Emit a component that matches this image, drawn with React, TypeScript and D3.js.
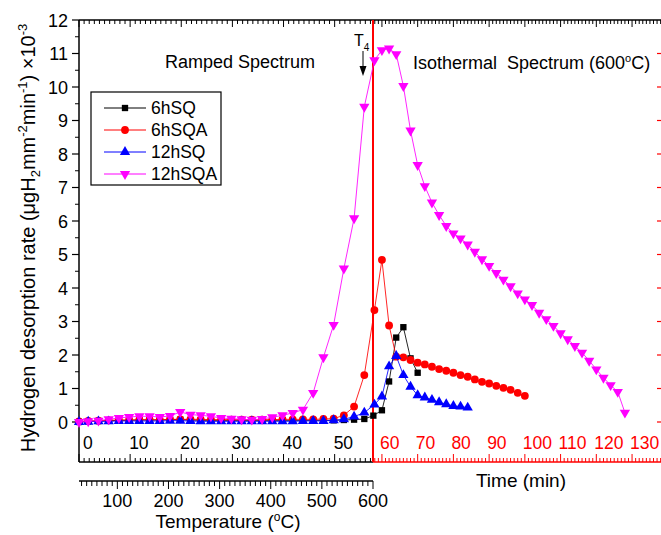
import React from 'react';
import * as d3 from 'd3';

const FONT = "'Liberation Sans', Arial, Helvetica, sans-serif";

// shared ramp sampling times (min)
const rampTimes = [0, 1.8, 3.8, 5.8, 7.8, 9.8, 11.8, 13.8, 15.8, 17.8, 19.8, 21.8, 23.8, 25.8, 27.8, 29.8, 31.8, 33.8, 35.8, 37.8, 39.8, 41.8, 43.8, 45.8, 47.8, 49.8, 51.8, 53.8, 55.8];

const sq6Ramp = [0, 0.02, 0.03, 0.04, 0.05, 0.05, 0.06, 0.06, 0.06, 0.07, 0.07, 0.06, 0.05, 0.05, 0.05, 0.05, 0.05, 0.05, 0.05, 0.05, 0.05, 0.05, 0.05, 0.05, 0.05, 0.05, 0.06, 0.07, 0.09];
const sq6IsoTimes = [57.6, 60, 62, 64, 66, 68, 70];
const sq6Iso = [0.19, 0.35, 1.21, 2.52, 2.83, 1.9, 1.47];

const sqa6Ramp = [0.02, 0.03, 0.04, 0.05, 0.06, 0.06, 0.07, 0.07, 0.07, 0.08, 0.08, 0.08, 0.08, 0.07, 0.07, 0.07, 0.07, 0.07, 0.07, 0.07, 0.08, 0.08, 0.08, 0.08, 0.09, 0.1, 0.2, 0.46, 1.4];
const sqa6IsoTimes = [57.9, 60, 62, 64, 66, 68, 70, 72, 74, 76, 78, 80, 82, 84, 86, 88, 90, 92, 94, 96, 98, 100];
const sqa6Iso = [3.34, 4.84, 2.88, 1.95, 1.93, 1.85, 1.77, 1.72, 1.65, 1.58, 1.53, 1.47, 1.4, 1.35, 1.27, 1.2, 1.15, 1.08, 1.02, 0.96, 0.87, 0.78];

const sq12Ramp = [0, 0.01, 0.02, 0.02, 0.03, 0.03, 0.03, 0.03, 0.03, 0.04, 0.04, 0.03, 0.02, 0.02, 0.02, 0.02, 0.02, 0.02, 0.02, 0.02, 0.02, 0.02, 0.03, 0.03, 0.03, 0.05, 0.08, 0.16, 0.28];
const sq12IsoTimes = [57.9, 60, 62, 64, 66, 68, 70, 72, 74, 76, 78, 80, 82, 84];
const sq12Iso = [0.52, 0.76, 1.66, 1.97, 1.4, 1.05, 0.8, 0.73, 0.66, 0.59, 0.53, 0.48, 0.46, 0.43];

const sqa12Ramp = [0, 0.02, 0.04, 0.08, 0.12, 0.15, 0.17, 0.17, 0.15, 0.18, 0.3, 0.22, 0.2, 0.17, 0.12, 0.1, 0.08, 0.07, 0.09, 0.14, 0.2, 0.27, 0.37, 0.87, 1.93, 2.9, 4.58, 6.08, 9.41];
const sqa12IsoTimes = [57.9, 60, 62, 64, 66, 68, 70, 72, 74, 76, 78, 80, 82, 84, 86, 88, 90, 92, 94, 96, 98, 100, 102, 104, 106, 108, 110, 112, 114, 116, 118, 120, 122, 124, 126, 128];
const sqa12Iso = [10.8, 11.1, 11.15, 10.98, 10.03, 8.7, 7.67, 7.04, 6.55, 6.18, 5.85, 5.63, 5.48, 5.3, 5.08, 4.86, 4.66, 4.45, 4.25, 4.05, 3.84, 3.66, 3.49, 3.26, 3.07, 2.87, 2.65, 2.47, 2.27, 2.07, 1.83, 1.57, 1.32, 1.1, 0.9, 0.28];

const seriesNames = ['6hSQ', '6hSQA', '12hSQ', '12hSQA'];
const seriesColors = ['#000000', '#ff0000', '#0000ff', '#ff00ff'];
const seriesShapes = ['square', 'circle', 'up', 'down'];

const yTicks = [0, 1, 2, 3, 4, 5, 6, 7, 8, 9, 10, 11, 12];
const timeLeftLabels = [0, 10, 20, 30, 40, 50];
const timeRightLabels = [60, 70, 80, 90, 100, 110, 120, 130];
const tempLabels = [100, 200, 300, 400, 500, 600];

const W = 661;
const H = 535;
const TSPLIT = 57.5;

function Marker({ shape, x, y, color }: { shape: string; x: number; y: number; color: string }) {
  if (shape === 'square') {
    const p = d3.symbol().type(d3.symbolSquare).size(40)()!;
    return <path d={p} transform={`translate(${x},${y})`} fill={color} />;
  }
  if (shape === 'circle') {
    const p = d3.symbol().type(d3.symbolCircle).size(48)()!;
    return <path d={p} transform={`translate(${x},${y})`} fill={color} />;
  }
  const p = d3.symbol().type(d3.symbolTriangle).size(46)()!;
  const rot = shape === 'down' ? 180 : 0;
  return <path d={p} transform={`translate(${x},${y}) rotate(${rot})`} fill={color} />;
}

export default function App() {
  const x = d3.scaleLinear().domain([0, TSPLIT, 138.1]).range([79, 373, 661]);
  const y = d3.scaleLinear().domain([0, 12]).range([422, 20]);
  const tx = d3.scaleLinear().domain([25, 600]).range([79, 373]);
  const xSplit = x(TSPLIT);
  const axisBottom = 462;
  const tempAxisY = 481;

  const series = [
    { t: [...rampTimes, ...sq6IsoTimes], v: [...sq6Ramp, ...sq6Iso] },
    { t: [...rampTimes, ...sqa6IsoTimes], v: [...sqa6Ramp, ...sqa6Iso] },
    { t: [...rampTimes, ...sq12IsoTimes], v: [...sq12Ramp, ...sq12Iso] },
    { t: [...rampTimes, ...sqa12IsoTimes], v: [...sqa12Ramp, ...sqa12Iso] },
  ];

  const line = d3
    .line<[number, number]>()
    .x((d) => x(d[0]))
    .y((d) => y(d[1]));

  const leftMinor = d3.range(0, 58, 1).filter((t) => t <= TSPLIT);
  const rightMinor = d3.range(58, 139, 1);
  const tempMinor = d3.range(30, 601, 10);
  const yMinor = d3.range(0.5, 12, 1);

  const tickFs = 18;

  return (
    <svg
      width={W}
      height={H}
      style={{ position: 'absolute', left: 0, top: 0, background: '#fff' }}
      fontFamily={FONT}
    >
      <rect x={0} y={0} width={W} height={H} fill="#fff" />

      {/* top axis */}
      <line x1={79} x2={W} y1={20} y2={20} stroke="#000" strokeWidth={1.5} />
      {leftMinor.map((t) => (
        <line key={'tl' + t} x1={x(t)} x2={x(t)} y1={20} y2={20 + (t % 10 === 0 ? 7 : 4)} stroke="#000" strokeWidth={1} />
      ))}
      {rightMinor.map((t) => (
        <line key={'tr' + t} x1={x(t)} x2={x(t)} y1={20} y2={20 + (t % 10 === 0 ? 7 : 4)} stroke="#000" strokeWidth={1} />
      ))}

      {/* left y axis */}
      <line x1={79} x2={79} y1={20} y2={axisBottom} stroke="#000" strokeWidth={1.5} />
      {yTicks.map((v) => (
        <g key={'y' + v}>
          <line x1={72} x2={79} y1={y(v)} y2={y(v)} stroke="#000" strokeWidth={1.2} />
          <text x={68} y={y(v) + 6.5} textAnchor="end" fontSize={tickFs} fill="#000">
            {v}
          </text>
        </g>
      ))}
      {yMinor.map((v) => (
        <line key={'ym' + v} x1={75} x2={79} y1={y(v)} y2={y(v)} stroke="#000" strokeWidth={1} />
      ))}

      {/* right red ticks (axis off-canvas) */}
      {yTicks.slice(0, 12).map((v) => (
        <line key={'ry' + v} x1={657} x2={W} y1={y(v)} y2={y(v)} stroke="#ff0000" strokeWidth={1.2} />
      ))}

      {/* bottom time axis */}
      <line x1={79} x2={xSplit} y1={axisBottom} y2={axisBottom} stroke="#000" strokeWidth={1.5} />
      <line x1={xSplit} x2={W} y1={axisBottom} y2={axisBottom} stroke="#ff0000" strokeWidth={1.5} />
      {leftMinor.map((t) => (
        <line key={'bl' + t} x1={x(t)} x2={x(t)} y1={axisBottom} y2={axisBottom - (t % 10 === 0 ? 8 : 4)} stroke="#000" strokeWidth={1} />
      ))}
      {rightMinor.map((t) => (
        <line key={'br' + t} x1={x(t)} x2={x(t)} y1={axisBottom} y2={axisBottom - (t % 10 === 0 ? 8 : 4)} stroke="#ff0000" strokeWidth={1} />
      ))}
      {timeLeftLabels.map((t) => (
        <text key={'lt' + t} x={t === 0 ? x(t) + 4 : x(t) - 1} y={449} fontSize={17.5} fill="#000">
          {t}
        </text>
      ))}
      {timeRightLabels.map((t) => (
        <text key={'rt' + t} x={x(t) - 2} y={449} fontSize={17.5} fill="#ff0000">
          {t}
        </text>
      ))}
      <text x={521} y={487} textAnchor="middle" fontSize={19} fill="#000">
        Time (min)
      </text>

      {/* temperature axis */}
      <line x1={79} x2={373} y1={tempAxisY} y2={tempAxisY} stroke="#000" strokeWidth={1.5} />
      {tempMinor.map((c) => (
        <line key={'tc' + c} x1={tx(c)} x2={tx(c)} y1={tempAxisY} y2={tempAxisY + (c % 100 === 0 ? 8 : 5)} stroke="#000" strokeWidth={1} />
      ))}
      {tempLabels.map((c) => (
        <text key={'tl' + c} x={tx(c)} y={507} textAnchor="middle" fontSize={tickFs} fill="#000">
          {c}
        </text>
      ))}
      <text x={228} y={528} textAnchor="middle" fontSize={19} fill="#000">
        Temperature (
        <tspan dy={-7} fontSize={12}>o</tspan>
        <tspan dy={7}>C)</tspan>
      </text>

      {/* y title */}
      <text
        transform={`translate(35,238) rotate(-90)`}
        textAnchor="middle"
        fontSize={20}
        fill="#000"
      >
        Hydrogen desorption rate (μgH
        <tspan dy={5} fontSize={13}>2</tspan>
        <tspan dy={-5}>mm</tspan>
        <tspan dy={-8} fontSize={13}>-2</tspan>
        <tspan dy={8}>min</tspan>
        <tspan dy={-8} fontSize={13}>-1</tspan>
        <tspan dy={8}>) ×10</tspan>
        <tspan dy={-8} fontSize={13}>-3</tspan>
      </text>

      {/* red divider */}
      <line x1={xSplit} x2={xSplit} y1={20} y2={axisBottom} stroke="#ff0000" strokeWidth={2} />

      {/* series */}
      {series.map((s, i) => {
        const pts: [number, number][] = s.t.map((t, k) => [t, s.v[k]]);
        return (
          <g key={'s' + i}>
            <path d={line(pts)!} fill="none" stroke={seriesColors[i]} strokeWidth={1} opacity={0.85} />
            {pts.map((p, k) => (
              <Marker key={k} shape={seriesShapes[i]} x={x(p[0])} y={y(p[1])} color={seriesColors[i]} />
            ))}
          </g>
        );
      })}

      {/* annotations */}
      <text x={165} y={68} fontSize={18} fill="#000">
        Ramped Spectrum
      </text>
      <text x={413} y={69} fontSize={18} fill="#000" style={{ whiteSpace: 'pre' }}>
        {'Isothermal  Spectrum (600'}
        <tspan dy={-7} fontSize={11}>o</tspan>
        <tspan dy={7}>C)</tspan>
      </text>
      <text x={354} y={46} fontSize={16} fill="#000">
        T<tspan dy={5} fontSize={10}>4</tspan>
      </text>
      <line x1={363} x2={363} y1={51} y2={68} stroke="#000" strokeWidth={1} />
      <path d="M359.5,66 L366.5,66 L363,76 Z" fill="#000" />

      {/* legend */}
      <rect x={91} y={92} width={130} height={93} fill="#fff" stroke="#000" strokeWidth={1.2} />
      {seriesNames.map((n, i) => {
        const ly = 108 + i * 22;
        return (
          <g key={'lg' + i}>
            <line x1={104} x2={146} y1={ly} y2={ly} stroke={seriesColors[i]} strokeWidth={1} />
            <Marker shape={seriesShapes[i]} x={125} y={ly} color={seriesColors[i]} />
            <text x={151} y={ly + 6} fontSize={17.5} fill="#000">
              {n}
            </text>
          </g>
        );
      })}
    </svg>
  );
}
